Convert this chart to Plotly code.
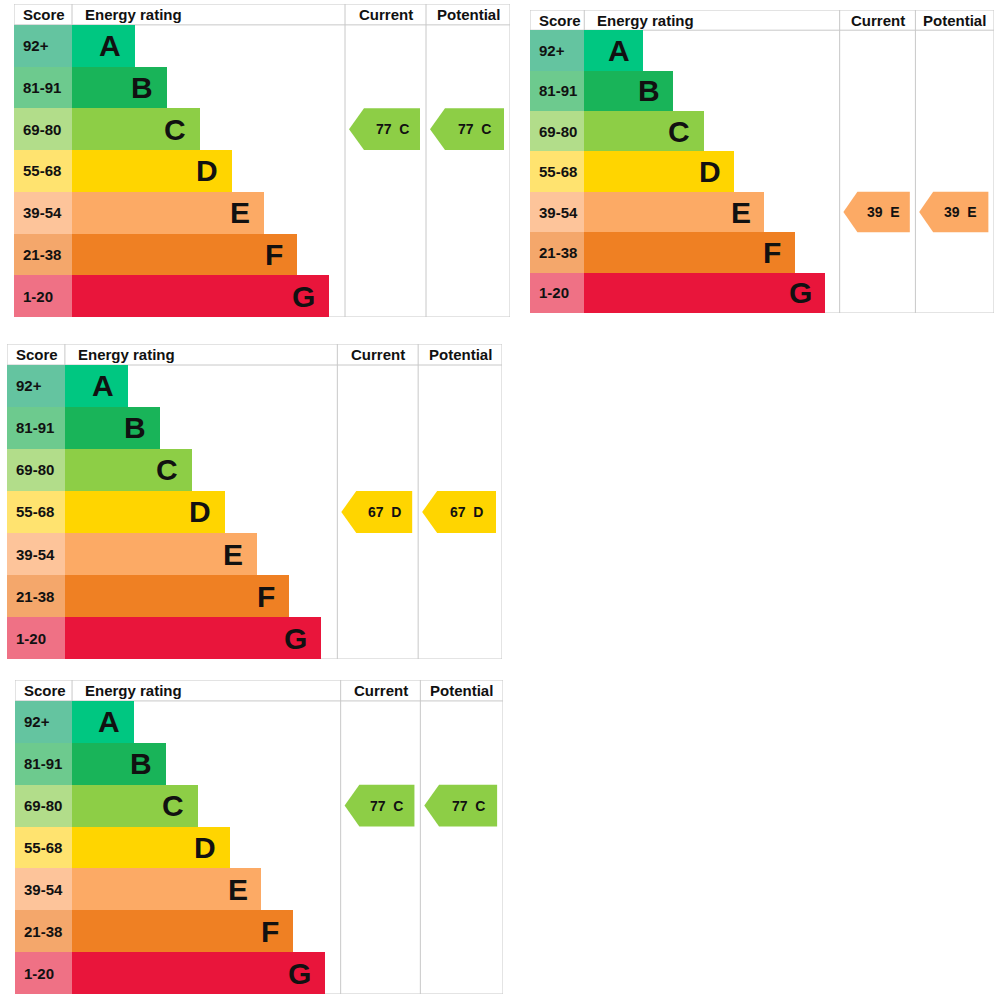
import plotly.graph_objects as go

# EPC bands, top (best) to bottom (worst)
bands = ["A", "B", "C", "D", "E", "F", "G"]
score_labels = ["92+", "81-91", "69-80", "55-68", "39-54", "21-38", "1-20"]
band_floor = [92, 81, 69, 55, 39, 21, 1]
band_colors = ["#00c781", "#19b459", "#8dce46", "#ffd500", "#fcaa65", "#ef8023", "#e9153b"]
score_colors = ["#64c4a0", "#6dca8e", "#b2dd8a", "#ffe36f", "#fdc49a", "#f4a76b", "#ef7185"]

# one entry per chart (top-left, top-right, middle, bottom)
current_scores = [77, 39, 67, 77]
potential_scores = [77, 39, 67, 77]

# where each chart sits on the page, in pixels: left, right, top, bottom
panel_boxes = [(14, 510, 4, 317), (530, 994, 10, 313), (7, 502, 344, 659), (15, 503, 680, 994)]

W, H = 1000, 1003

# inner geometry of one chart (same for all, scaled by its domain)
SCORE_W = 58
BAR_A = 121
BAR_STEP = 32.35
CUR_L, POT_L, RIGHT = 331, 412, 496
LINE = "#c8c8c8"
FONT = "Liberation Sans, Arial, sans-serif"
INK = "#111111"


def band_of(score):
    for i, lo in enumerate(band_floor):
        if score >= lo:
            return i
    return len(bands) - 1


def arrow(col_l, col_r, score, xa, ya):
    i = band_of(score)
    tip, body, end = col_l + 4, col_l + 19, col_r - 6
    xs = [tip, body, end, end, body, tip]
    ys = [i, i - 0.5, i - 0.5, i + 0.5, i + 0.5, i]
    poly = go.Scatter(x=xs, y=ys, fill="toself", fillcolor=band_colors[i],
                      line=dict(width=0), mode="lines", hoverinfo="skip",
                      xaxis=xa, yaxis=ya, showlegend=False)
    label = dict(x=(body + end) / 2, y=i, xref=xa, yref=ya,
                 text="<b>%d\u00a0\u00a0%s</b>" % (score, bands[i]),
                 showarrow=False, font=dict(family=FONT, size=14, color=INK))
    return poly, label


fig = go.Figure()
annotations = []
shapes = []
rows = list(range(len(bands)))

for p, (left, right, top, bottom) in enumerate(panel_boxes):
    n = "" if p == 0 else str(p + 1)
    xa, ya = "x" + n, "y" + n

    # score column cells
    fig.add_trace(go.Bar(y=rows, x=[SCORE_W] * len(rows), base=0, orientation="h",
                         width=1, marker=dict(color=score_colors, line=dict(width=0)),
                         hoverinfo="skip", showlegend=False, xaxis=xa, yaxis=ya))
    # rating bars, each band one step longer
    ends = [BAR_A + BAR_STEP * i for i in rows]
    fig.add_trace(go.Bar(y=rows, x=[e - SCORE_W for e in ends], base=SCORE_W, orientation="h",
                         width=1, marker=dict(color=band_colors, line=dict(width=0)),
                         hoverinfo="skip", showlegend=False, xaxis=xa, yaxis=ya))

    for i in rows:
        annotations.append(dict(x=ends[i] - 12, y=i, xref=xa, yref=ya, xanchor="right",
                                text="<b>%s</b>" % bands[i], showarrow=False,
                                font=dict(family=FONT, size=30, color=INK)))
        annotations.append(dict(x=7, y=i, xref=xa, yref=ya, xanchor="left",
                                text="<b>%s</b>" % score_labels[i], showarrow=False,
                                font=dict(family=FONT, size=15, color=INK)))

    # header
    hdr = dict(family=FONT, size=15, color=INK)
    annotations += [
        dict(x=7, y=-0.75, xref=xa, yref=ya, xanchor="left", text="<b>Score</b>", showarrow=False, font=hdr),
        dict(x=SCORE_W + 11, y=-0.75, xref=xa, yref=ya, xanchor="left", text="<b>Energy rating</b>", showarrow=False, font=hdr),
        dict(x=(CUR_L + POT_L) / 2, y=-0.75, xref=xa, yref=ya, text="<b>Current</b>", showarrow=False, font=hdr),
        dict(x=(POT_L + RIGHT) / 2, y=-0.75, xref=xa, yref=ya, text="<b>Potential</b>", showarrow=False, font=hdr),
    ]

    # current / potential arrows
    for (cl, cr, s) in [(CUR_L, POT_L, current_scores[p]), (POT_L, RIGHT, potential_scores[p])]:
        poly, lab = arrow(cl, cr, s, xa, ya)
        fig.add_trace(poly)
        annotations.append(lab)

    # table lines
    for (x0, y0, x1, y1) in [(0, -1, RIGHT, -1), (0, -0.5, RIGHT, -0.5), (0, 6.5, RIGHT, 6.5),
                             (0, -1, 0, 6.5), (RIGHT, -1, RIGHT, 6.5), (SCORE_W, -1, SCORE_W, -0.5),
                             (CUR_L, -1, CUR_L, 6.5), (POT_L, -1, POT_L, 6.5)]:
        shapes.append(dict(type="line", xref=xa, yref=ya, x0=x0, y0=y0, x1=x1, y1=y1,
                           line=dict(color=LINE, width=1), layer="below"))

    axis_common = dict(visible=False, showgrid=False, zeroline=False, fixedrange=True)
    fig.update_layout({
        "xaxis" + n: dict(axis_common, range=[0, RIGHT], domain=[left / W, right / W], anchor=ya),
        "yaxis" + n: dict(axis_common, range=[6.5, -1], domain=[1 - bottom / H, 1 - top / H], anchor=xa),
    })

fig.update_layout(
    width=W, height=H,
    margin=dict(l=0, r=0, t=0, b=0),
    paper_bgcolor="white", plot_bgcolor="white",
    barmode="overlay", bargap=0,
    annotations=annotations, shapes=shapes,
    showlegend=False,
)

# drop the browser's default page margin so the figure sits at 0,0
fig.write_html("out.html", config={"displayModeBar": False},
               post_script="document.body.style.margin='0';")
